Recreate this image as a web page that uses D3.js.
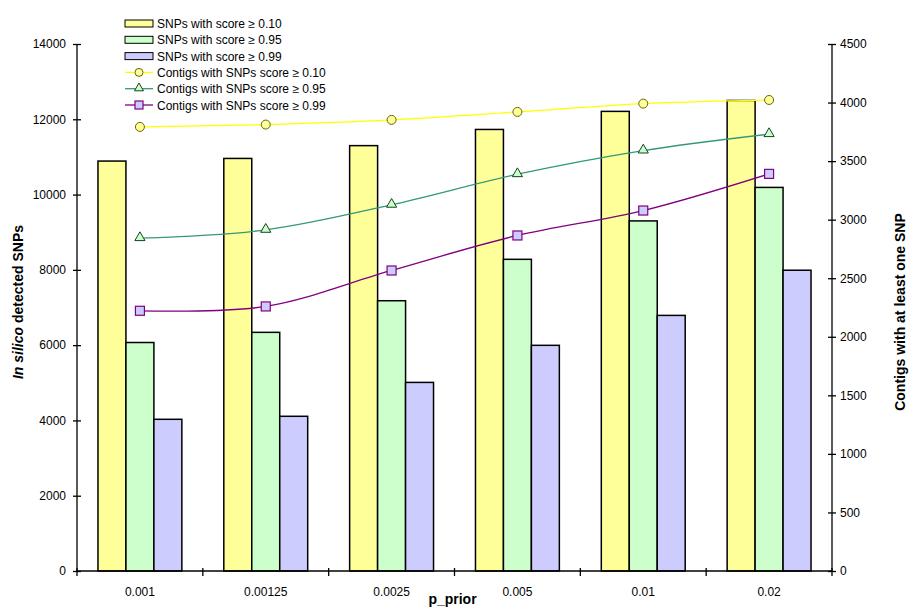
<!DOCTYPE html>
<html><head><meta charset="utf-8">
<script src="https://cdn.jsdelivr.net/npm/d3@7"></script>
<style>
html,body{margin:0;padding:0;background:#fff;}
svg{display:block;font-family:"Liberation Sans",Arial,sans-serif;}
</style></head>
<body>
<svg id="chart" width="917" height="614"></svg>
<script>
const categories = ["0.001","0.00125","0.0025","0.005","0.01","0.02"];
const snps010 = [10890, 10960, 11300, 11730, 12210, 12500];
const snps095 = [6070, 6340, 7180, 8280, 9300, 10190];
const snps099 = [4030, 4110, 5010, 5995, 6790, 7990];
const contigs010 = [3792, 3812, 3852, 3920, 3991, 4022];
const contigs095 = [2842, 2913, 3127, 3388, 3590, 3730];
const contigs099 = [2222, 2259, 2566, 2865, 3078, 3391];
const leftTicks = [0,2000,4000,6000,8000,10000,12000,14000];
const rightTicks = [0,500,1000,1500,2000,2500,3000,3500,4000,4500];

const barSeries = [
  {name:"SNPs with score \u2265 0.10", values:snps010, fill:"#FFFF99"},
  {name:"SNPs with score \u2265 0.95", values:snps095, fill:"#CCFFCC"},
  {name:"SNPs with score \u2265 0.99", values:snps099, fill:"#CCCCFF"}
];
const lineSeries = [
  {name:"Contigs with SNPs score \u2265 0.10", values:contigs010, stroke:"#FFFF00", mfill:"#FFFF99", mstroke:"#666600", marker:"circle"},
  {name:"Contigs with SNPs score \u2265 0.95", values:contigs095, stroke:"#339977", mfill:"#CCFFCC", mstroke:"#114422", marker:"triangle"},
  {name:"Contigs with SNPs score \u2265 0.99", values:contigs099, stroke:"#800080", mfill:"#CCCCFF", mstroke:"#800080", marker:"square"}
];

const svg = d3.select("#chart");
const L = 77, R = 832, T = 44, B = 571;

const x0 = d3.scaleBand().domain(categories).range([L,R]).paddingInner(1/3).paddingOuter(1/6);
const x1 = d3.scaleBand().domain(d3.range(barSeries.length)).range([0, x0.bandwidth()]);
const yL = d3.scaleLinear().domain([0,14000]).range([B,T]);
const yR = d3.scaleLinear().domain([0,4500]).range([B,T]);

// Bars
barSeries.forEach((s,si)=>{
  svg.append("g").selectAll("rect").data(s.values).join("rect")
    .attr("x",(d,i)=>x0(categories[i])+x1(si))
    .attr("y",d=>yL(d))
    .attr("width",x1.bandwidth())
    .attr("height",d=>B-yL(d))
    .attr("fill",s.fill)
    .attr("stroke","#000").attr("stroke-width",1.5);
});

// Lines
const cx = c => x0(c)+x0.bandwidth()/2;
function drawMarker(g, type, fill, stroke, size){
  if(type==="circle") g.append("circle").attr("r",size/2).attr("fill",fill).attr("stroke",stroke).attr("stroke-width",1);
  else if(type==="triangle") g.append("path").attr("d",d3.symbol(d3.symbolTriangle, size*size*0.55)()).attr("transform","translate(0,-0.5)").attr("fill",fill).attr("stroke",stroke).attr("stroke-width",1);
  else g.append("rect").attr("x",-size/2).attr("y",-size/2).attr("width",size).attr("height",size).attr("fill",fill).attr("stroke",stroke).attr("stroke-width",1.2);
}
lineSeries.forEach(s=>{
  const line = d3.line().x((d,i)=>cx(categories[i])).y(d=>yR(d)).curve(d3.curveCatmullRom.alpha(0.5));
  svg.append("path").attr("d",line(s.values)).attr("fill","none").attr("stroke",s.stroke).attr("stroke-width",1.3);
  s.values.forEach((v,i)=>{
    const g = svg.append("g").attr("transform",`translate(${cx(categories[i])},${yR(v)})`);
    drawMarker(g, s.marker, s.mfill, s.mstroke, 9);
  });
});

// Left axis
const axL = svg.append("g").attr("transform",`translate(${L},0)`)
  .call(d3.axisLeft(yL).tickValues(leftTicks).tickFormat(d3.format("d")).tickSize(4).tickPadding(7));
axL.selectAll(".tick line").attr("x1",4).attr("x2",-4);
axL.select(".domain").attr("d",`M0,${T}V${B}`);
// Right axis
const axR = svg.append("g").attr("transform",`translate(${R},0)`)
  .call(d3.axisRight(yR).tickValues(rightTicks).tickFormat(d3.format("d")).tickSize(4).tickPadding(4));
axR.selectAll(".tick line").attr("x1",-4).attr("x2",4);
axR.select(".domain").attr("d",`M0,${T}V${B}`);
[axL,axR].forEach(a=>{
  a.selectAll("text").attr("font-size",12).attr("fill","#000").attr("font-family","'Liberation Sans',Arial,sans-serif");
  a.selectAll("line,path").attr("stroke","#000").attr("stroke-width",1.3);
});

// Bottom axis
const step = x0.step();
svg.append("line").attr("x1",L).attr("x2",R).attr("y1",B).attr("y2",B).attr("stroke","#000").attr("stroke-width",1.3);
svg.append("g").selectAll("line").data(d3.range(categories.length+1)).join("line")
  .attr("x1",i=>L+i*step).attr("x2",i=>L+i*step).attr("y1",B-3).attr("y2",B+5)
  .attr("stroke","#000").attr("stroke-width",1.3);
svg.append("g").selectAll("text").data(categories).join("text")
  .attr("x",c=>cx(c)).attr("y",596).attr("text-anchor","middle").attr("font-size",12).text(c=>c);

// Axis titles
svg.append("text").attr("x",(L+R)/2-2).attr("y",604).attr("text-anchor","middle")
  .attr("font-size",14).attr("font-weight","bold").text("p_prior");
const lt = svg.append("text").attr("transform","translate(23,302) rotate(-90)").attr("text-anchor","middle")
  .attr("font-size",14).attr("font-weight","bold");
lt.append("tspan").attr("font-style","italic").text("In silico");
lt.append("tspan").text(" detected SNPs");
svg.append("text").attr("transform","translate(905,312) rotate(-90)").attr("text-anchor","middle")
  .attr("font-size",14).attr("font-weight","bold").text("Contigs with at least one SNP");

// Legend
const lg = svg.append("g");
const rowH = 16.3, ly0 = 23.5;
barSeries.forEach((s,i)=>{
  const y = ly0 + i*rowH;
  lg.append("rect").attr("x",125).attr("y",y-3.5).attr("width",28).attr("height",7).attr("fill",s.fill).attr("stroke","#000").attr("stroke-width",1);
  lg.append("text").attr("x",157).attr("y",y+4.5).attr("font-size",12).text(s.name);
});
lineSeries.forEach((s,j)=>{
  const y = ly0 + (j+3)*rowH;
  lg.append("line").attr("x1",125).attr("x2",153).attr("y1",y).attr("y2",y).attr("stroke",s.stroke).attr("stroke-width",1.3);
  const g = lg.append("g").attr("transform",`translate(139,${y})`);
  drawMarker(g, s.marker, s.mfill, s.mstroke, 8);
  lg.append("text").attr("x",157).attr("y",y+4.5).attr("font-size",12).text(s.name);
});
</script>
</body></html>
